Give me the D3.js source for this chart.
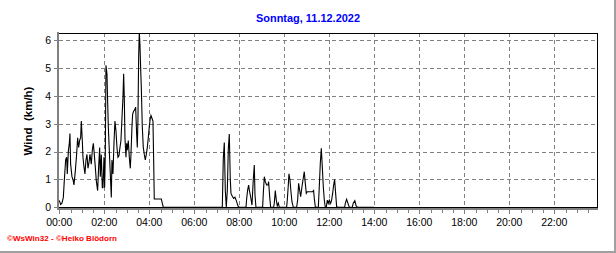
<!DOCTYPE html>
<html><head><meta charset="utf-8">
<script src="https://cdn.jsdelivr.net/npm/d3@7"></script>
<style>html,body{margin:0;padding:0;background:#fff;overflow:hidden}</style>
</head><body><svg id="c" width="616" height="253"></svg>
<script>
const titleText = "Sonntag, 11.12.2022";
const yLabelText = "Wind  (km/h)";
const footerText = "\u00A9WsWin32 - \u00A9Heiko Bl\u00F6dorn";
const yTicks = [0, 1, 2, 3, 4, 5, 6];
const xTickLabels = ["00:00","02:00","04:00","06:00","08:00","10:00","12:00","14:00","16:00","18:00","20:00","22:00"];
// time of day in minutes
const minutes = [0,3.6,7,10.7,13.3,16.9,19.6,21.3,24,26.7,28.4,30.2,33.8,37.3,39.1,42.7,46.2,48.9,51.6,54.2,56.9,58.7,61.3,63.1,65.8,68.4,71.1,73.8,76.4,79.1,81.8,85.3,88,90.7,93.3,96,98.7,102.2,104.9,107.6,109.3,112,114.7,116.4,119.1,120.9,122.7,124.4,127.1,128.9,130.7,133.3,136,138.7,140.4,143.1,145.8,148.4,151.1,153.8,156.4,159.1,161.8,164.4,167.1,169.8,171.6,173.3,175.1,177.8,179.6,181.3,184,186.7,189.3,191.1,193.8,195.6,198.2,200.9,203.6,206.2,208,209.8,211.6,213.3,215.1,216.9,218.7,221.3,224,226.7,229.3,232,234.7,237.3,240,242.7,244.4,247.1,249.8,251.6,253.3,272,277.3,
434.7,437.3,440,442.7,445.3,448,450.7,453.3,456,457.8,461.3,464.9,468.4,472,476.4,480,497.8,499.6,502.2,504.9,506.7,510.2,513.8,517.3,520,521.8,524.4,542.2,544,546.7,549.3,552.9,556.4,558.2,560.9,563.6,571.6,573.3,576,578.7,581.3,584,586.7,606.2,608,610.7,612.4,615.1,617.8,620.4,624,632.9,635.6,638.2,640.9,643.6,647.1,649.8,653.3,656,658.7,661.3,675.6,678.2,680,682.7,686.2,690.7,693.3,696,698.7,701.3,704,706.7,709.3,712,714.7,717.3,720,723.6,726.2,728.9,731.6,734.2,736.9,739.6,744,760.9,762.7,766.2,769.8,773.3,781.3,783.6,788,791.6,795.6,840];
// wind speed in km/h
const wind = [0.25,0.1,0.15,0.35,0.95,1.7,1.8,1.2,2.0,2.3,2.65,1.55,1.1,0.95,0.8,1.3,1.9,2.5,2.15,2.4,2.5,3.1,2.4,1.8,1.45,1.2,1.7,1.9,1.4,1.6,1.9,1.55,2.05,2.3,1.9,1.45,0.95,0.6,1.45,2.15,1.1,1.9,0.7,0.7,1.8,0.7,1.9,5.1,4.8,3.8,2.9,2.05,1.2,0.35,1.7,1.2,2.3,3.1,2.75,2.15,1.8,1.85,2.15,2.4,3.2,3.95,4.8,3.95,2.5,1.8,2.3,2.05,2.4,1.8,1.4,1.9,2.9,3.35,3.45,3.5,3.6,2.65,2.15,3.2,5.4,6.3,5.85,5.0,4.3,2.9,2.15,1.9,1.7,1.9,2.15,2.5,2.9,3.2,3.3,3.2,3.1,1.7,0.3,0.3,0,
0,1.74,2.33,0.6,0,0.6,2.09,2.63,1.0,0.5,0.4,0.32,0.36,0.24,0.05,0,0,0.3,0.62,0.8,0.62,0.38,0.08,1.0,1.52,0.45,0,0,0.5,1.1,0.92,0.8,0.8,0.92,0.4,0,0,0.15,0.6,0.26,0.05,0.15,0,0,0.26,0.8,1.2,0.98,0.56,0.2,0,0,0.26,0.86,0.62,0.38,0.74,0.98,1.28,0.86,0.5,0.56,0.56,0.6,0.32,0.02,0,0,0.74,1.58,2.12,1.46,0.74,0.26,0,0,0.26,0.14,0.26,0.14,0.26,0.5,0.8,1.0,0.5,0.02,0,0,0.14,0.29,0.14,0,0,0.14,0.24,0.05,0,0];

const svg = d3.select("#c");
const L = 59, T = 33, R = 597, B = 207.5;
const x = d3.scaleLinear().domain([0, 1440]).range([59.3, 599.3]);
const y = d3.scaleLinear().domain([0, 6]).range([207.3, 40.3]);
const font = "'Liberation Sans', Arial, sans-serif";
const gray = "#808080";

// title
svg.append("text").attr("x", 308).attr("y", 22).attr("text-anchor", "middle")
  .attr("font-family", font).attr("font-size", 11).attr("font-weight", "bold")
  .attr("fill", "#0000ff").attr("textLength", 104).attr("lengthAdjust", "spacingAndGlyphs")
  .text(titleText);

// gridlines
const g = svg.append("g").attr("stroke", gray).attr("stroke-width", 1).attr("stroke-dasharray", "4,3");
xTickLabels.forEach((lab, i) => {
  if (i === 0) return;
  const xx = Math.round(x(i * 120)) + 0.5;
  g.append("line").attr("x1", xx).attr("x2", xx).attr("y1", T).attr("y2", B);
});
yTicks.forEach(v => {
  if (v === 0) return;
  const yy = Math.round(y(v)) + 0.5;
  g.append("line").attr("x1", L).attr("x2", R).attr("y1", yy).attr("y2", yy);
});

// frame
svg.append("line").attr("x1", L).attr("x2", R + 1).attr("y1", T + 0.5).attr("y2", T + 0.5).attr("stroke", "#000");
svg.append("line").attr("x1", R + 0.5).attr("x2", R + 0.5).attr("y1", T).attr("y2", 208).attr("stroke", "#000");
svg.append("line").attr("x1", L).attr("x2", R + 1).attr("y1", 207.5).attr("y2", 207.5).attr("stroke", "#000");

// data line
svg.append("clipPath").attr("id", "clip").append("rect").attr("x", L).attr("y", T).attr("width", R - L).attr("height", 176);
const pts = minutes.map((m, i) => [m, wind[i]]);
svg.append("path").datum(pts).attr("clip-path", "url(#clip)")
  .attr("fill", "none").attr("stroke", "#000").attr("stroke-width", 1.1)
  .attr("d", d3.line().x(d => x(d[0])).y(d => y(d[1])));

// gray axes
svg.append("rect").attr("x", 57).attr("y", 32).attr("width", 2).attr("height", 178).attr("fill", gray);
svg.append("rect").attr("x", 57).attr("y", 208).attr("width", 541).attr("height", 2).attr("fill", gray);

// y ticks + labels
yTicks.forEach(v => {
  const yy = Math.round(y(v)) + 0.5;
  svg.append("line").attr("x1", 54).attr("x2", 57).attr("y1", yy).attr("y2", yy).attr("stroke", gray);
  svg.append("text").attr("x", 51).attr("y", y(v)).attr("dy", "0.36em").attr("text-anchor", "end")
    .attr("font-family", font).attr("font-size", 10.5).attr("fill", "#000").text(v);
});

// x ticks
d3.range(0, 1440, 30).forEach(m => {
  const xx = Math.round(x(m)) + 0.5;
  const major = m % 120 === 0;
  svg.append("line").attr("x1", xx).attr("x2", xx).attr("y1", 210).attr("y2", major ? 214 : 213).attr("stroke", gray);
});
xTickLabels.forEach((lab, i) => {
  svg.append("text").attr("x", x(i * 120)).attr("y", 226).attr("text-anchor", "middle")
    .attr("font-family", font).attr("font-size", 10.5).attr("fill", "#000").text(lab);
});

// y label
svg.append("text").attr("transform", "translate(32,121) rotate(-90)").attr("text-anchor", "middle")
  .attr("font-family", font).attr("font-size", 11.5).attr("font-weight", "bold").attr("fill", "#000")
  .attr("xml:space", "preserve").style("white-space", "pre").text(yLabelText);

// footer
svg.append("text").attr("x", 7).attr("y", 241).attr("font-family", font).attr("font-size", 7)
  .attr("font-weight", "bold").attr("fill", "#ff0000").attr("textLength", 110).attr("lengthAdjust", "spacingAndGlyphs")
  .text(footerText);

// outer border (right and bottom)
svg.append("rect").attr("x", 614).attr("y", 0).attr("width", 2).attr("height", 253).attr("fill", "#a0a0a0");
svg.append("rect").attr("x", 0).attr("y", 251).attr("width", 616).attr("height", 2).attr("fill", "#a0a0a0");
</script></body></html>
